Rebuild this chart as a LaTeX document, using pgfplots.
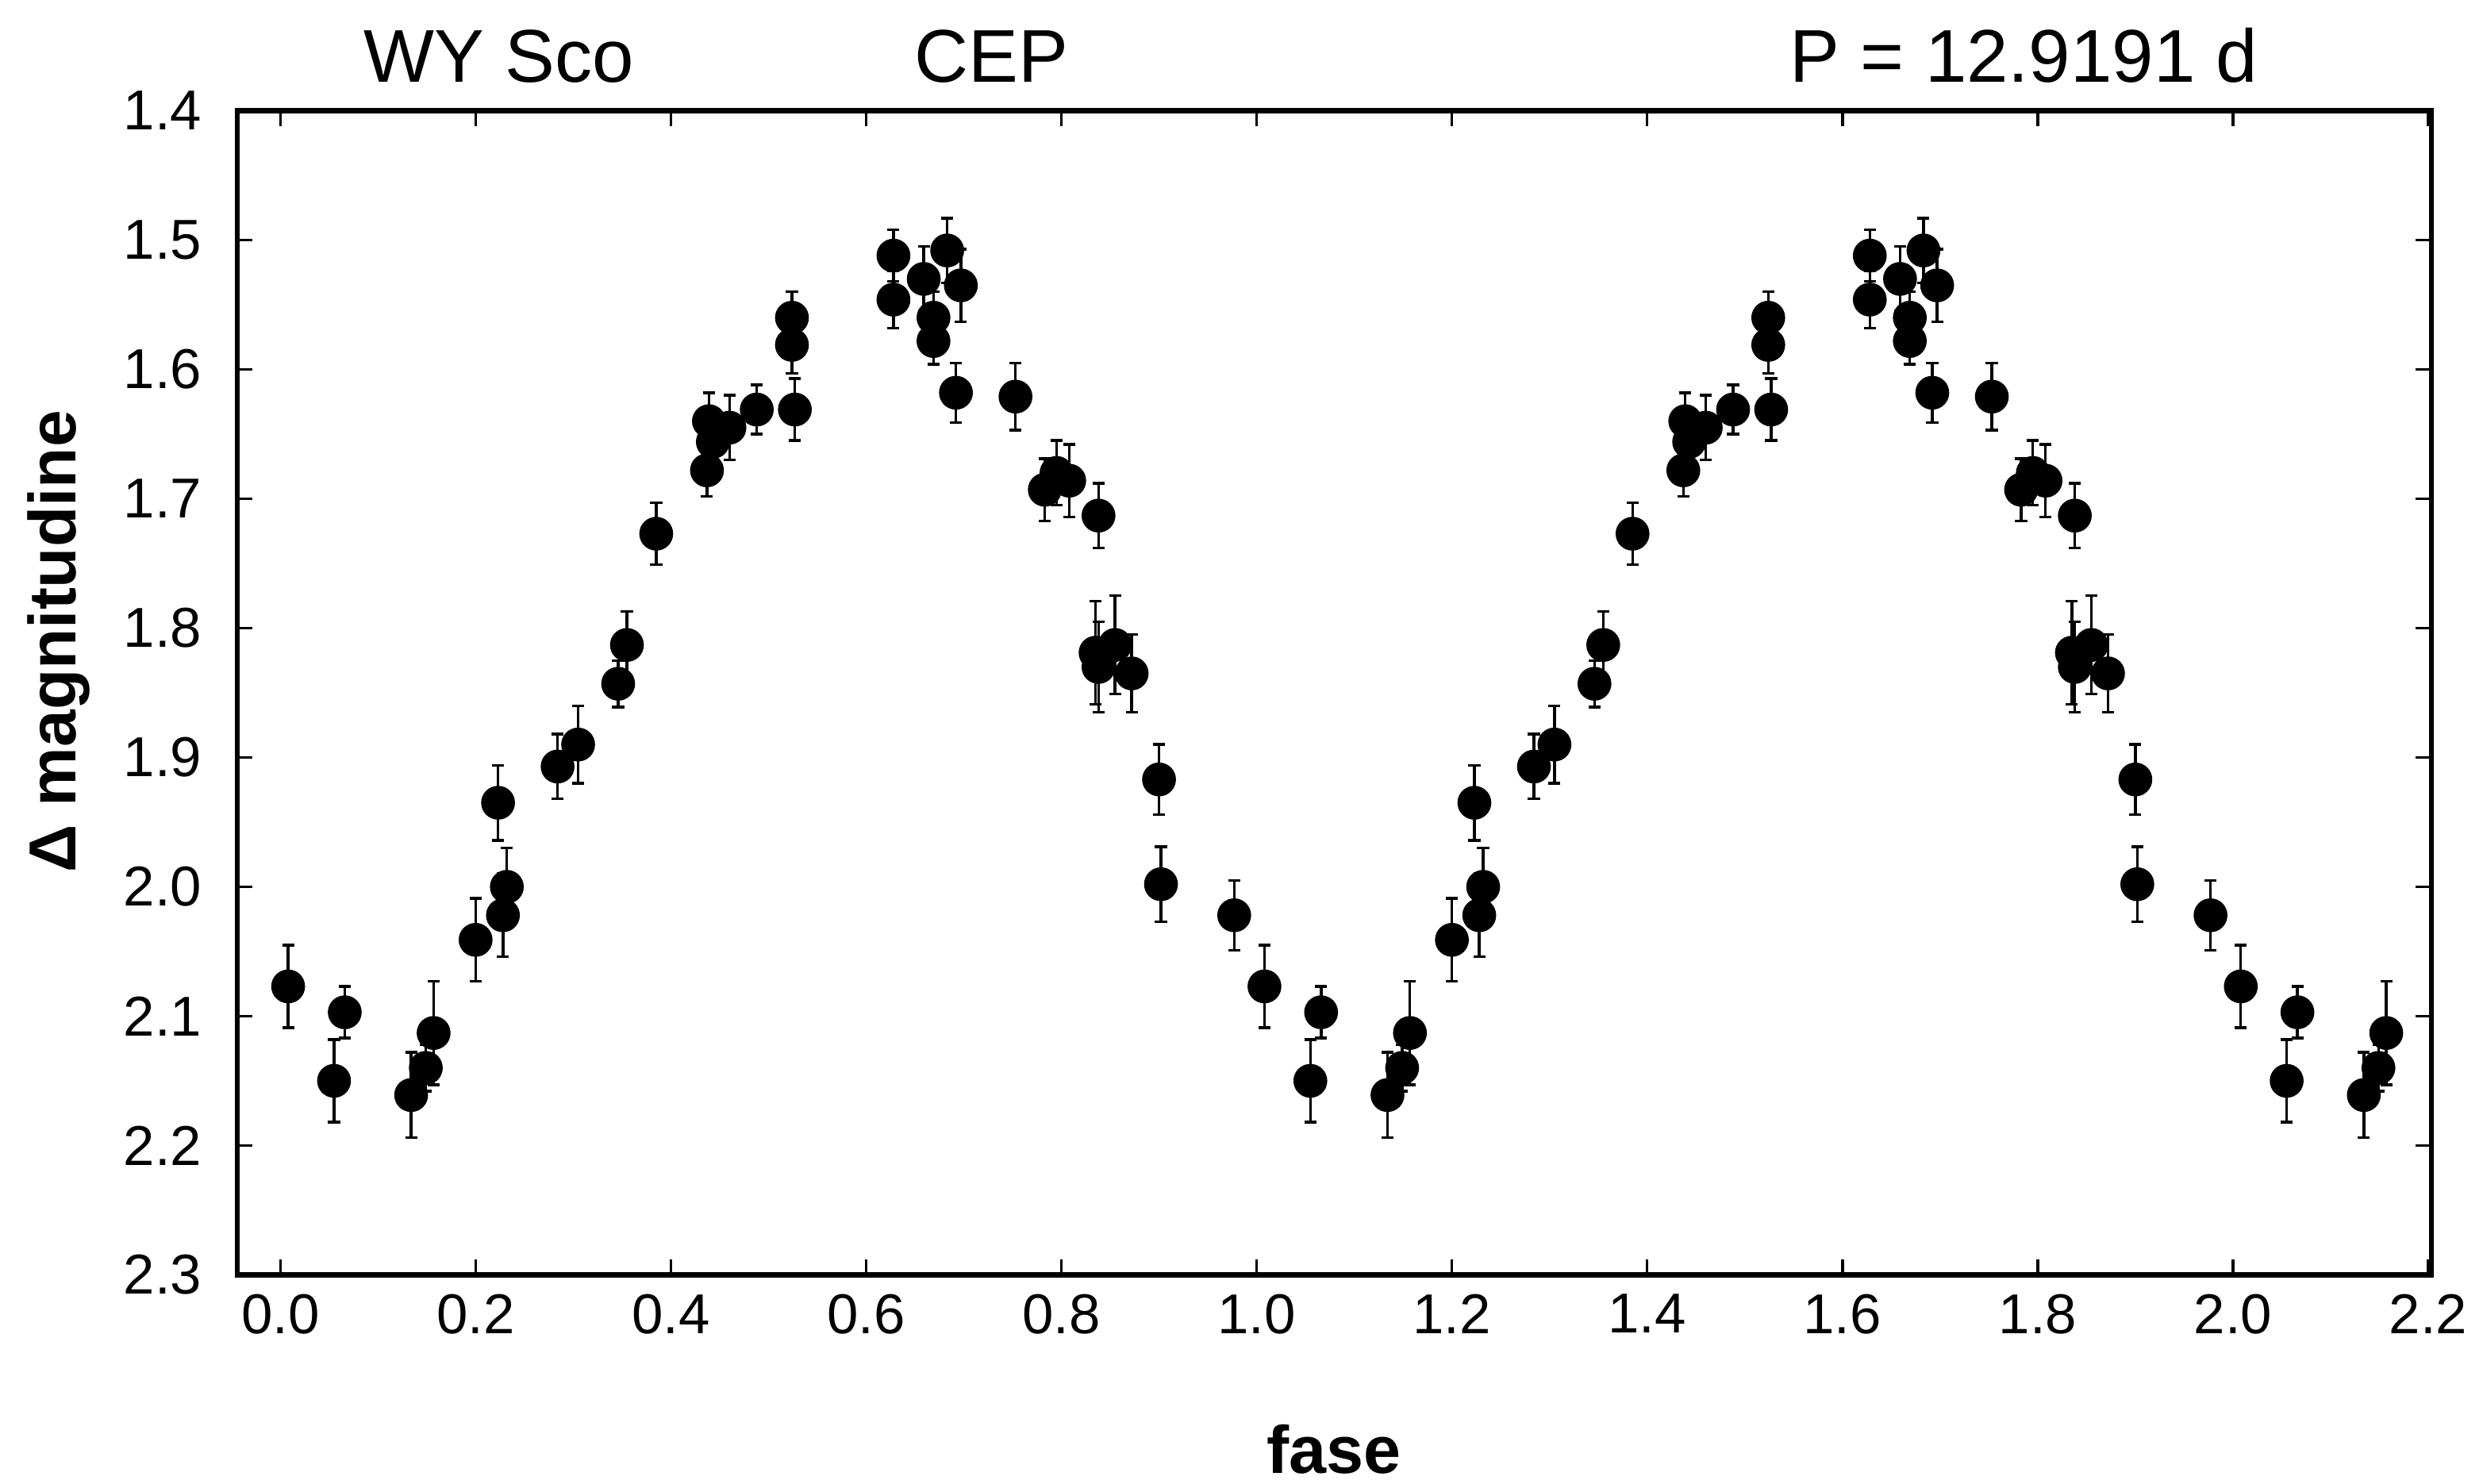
\documentclass[border=0pt]{standalone}
\usepackage{fontspec}
\setmainfont{Liberation Sans}
\usepackage{pgfplots}
\usepackage{pgfplotstable}
\pgfplotsset{compat=1.18}

% phase, delta mag, error  (first cycle)
\pgfplotstableread{
x y e
0.008 2.077 0.032
0.055 2.150 0.032
0.066 2.097 0.020
0.134 2.161 0.033
0.149 2.140 0.018
0.157 2.113 0.040
0.200 2.041 0.032
0.223 1.935 0.029
0.228 2.022 0.032
0.232 2.000 0.030
0.284 1.907 0.025
0.305 1.890 0.030
0.346 1.843 0.018
0.355 1.813 0.026
0.385 1.727 0.024
0.437 1.678 0.020
0.439 1.640 0.022
0.443 1.656 0.020
0.460 1.645 0.025
0.488 1.631 0.019
0.524 1.560 0.020
0.524 1.581 0.022
0.527 1.631 0.024
0.628 1.512 0.020
0.628 1.546 0.022
0.659 1.530 0.025
0.669 1.560 0.020
0.669 1.578 0.018
0.683 1.508 0.025
0.697 1.535 0.028
0.692 1.618 0.023
0.753 1.621 0.026
0.783 1.693 0.024
0.795 1.680 0.025
0.808 1.686 0.028
0.838 1.713 0.025
0.835 1.819 0.040
0.838 1.830 0.035
0.855 1.813 0.038
0.872 1.835 0.030
0.900 1.917 0.027
0.902 1.998 0.029
0.977 2.022 0.027
}\cycA

% second cycle (phase + 1)
\pgfplotstableread{
x y e
1.008 2.077 0.032
1.055 2.150 0.032
1.066 2.097 0.020
1.134 2.161 0.033
1.149 2.140 0.018
1.157 2.113 0.040
1.200 2.041 0.032
1.223 1.935 0.029
1.228 2.022 0.032
1.232 2.000 0.030
1.284 1.907 0.025
1.305 1.890 0.030
1.346 1.843 0.018
1.355 1.813 0.026
1.385 1.727 0.024
1.437 1.678 0.020
1.439 1.640 0.022
1.443 1.656 0.020
1.460 1.645 0.025
1.488 1.631 0.019
1.524 1.560 0.020
1.524 1.581 0.022
1.527 1.631 0.024
1.628 1.512 0.020
1.628 1.546 0.022
1.659 1.530 0.025
1.669 1.560 0.020
1.669 1.578 0.018
1.683 1.508 0.025
1.697 1.535 0.028
1.692 1.618 0.023
1.753 1.621 0.026
1.783 1.693 0.024
1.795 1.680 0.025
1.808 1.686 0.028
1.838 1.713 0.025
1.835 1.819 0.040
1.838 1.830 0.035
1.855 1.813 0.038
1.872 1.835 0.030
1.900 1.917 0.027
1.902 1.998 0.029
1.977 2.022 0.027
}\cycB

% start of third cycle
\pgfplotstableread{
x y e
2.008 2.077 0.032
2.055 2.150 0.032
2.066 2.097 0.020
2.134 2.161 0.033
2.149 2.140 0.018
2.157 2.113 0.040
}\cycC

\pgfplotsset{
  pts/.style={
    only marks, black, mark=*, mark size=2.9pt,
    mark options={fill=black, draw=black},
    error bars/y dir=both, error bars/y explicit,
    error bars/error bar style={line width=0.5pt, black},
    error bars/error mark options={rotate=90, mark size=1.1pt, line width=0.5pt, black}
  }
}

\begin{document}
\begin{tikzpicture}
\begin{axis}[
  scale only axis,
  width=402pt, height=213.3pt,
  xmin=-0.044, xmax=2.203,
  ymin=1.4, ymax=2.3,
  y dir=reverse,
  xtick={0,0.2,0.4,0.6,0.8,1.0,1.2,1.4,1.6,1.8,2.0,2.2},
  ytick={1.4,1.5,1.6,1.7,1.8,1.9,2.0,2.1,2.2,2.3},
  /pgf/number format/assume math mode=true,
  /pgf/number format/fixed,
  /pgf/number format/fixed zerofill,
  /pgf/number format/precision=1,
  yticklabel style={xshift=-3pt},
  tick label style={font=\fontsize{10.3}{12}\selectfont},
  tick align=inside,
  major tick length=2.8pt,
  tick style={line width=0.5pt, black},
  axis line style={line width=0.9pt},
  clip=false,
]
\addplot[pts] table[x=x, y=y, y error=e] {\cycA};
\addplot[pts] table[x=x, y=y, y error=e] {\cycB};
\addplot[pts] table[x=x, y=y, y error=e] {\cycC};

\node[anchor=base west, font=\fontsize{13.7}{16}\selectfont, yshift=5.2pt]
  at (axis description cs:0.049,1) {WY Sco};
\node[anchor=base west, font=\fontsize{13.7}{16}\selectfont, yshift=5.2pt]
  at (axis description cs:0.300,1) {CEP};
\node[anchor=base west, font=\fontsize{13.7}{16}\selectfont, yshift=5.2pt]
  at (axis description cs:0.699,1) {P = 12.9191 d};

\node[xshift=-32.8pt, rotate=90, anchor=center, font=\fontsize{12.2}{14}\selectfont\bfseries]
  at (axis description cs:0,0.544) {Δ magnitudine};
\node[anchor=base, font=\fontsize{12.3}{14}\selectfont\bfseries, yshift=-36.3pt]
  at (axis description cs:0.5,0) {fase};

\coordinate (sw) at (axis description cs:0,0);
\end{axis}
\pgfresetboundingbox
\path[use as bounding box] ([xshift=-43.5pt,yshift=-38.3pt]sw) rectangle ([xshift=411.5pt,yshift=233.6pt]sw);
\end{tikzpicture}
\end{document}
